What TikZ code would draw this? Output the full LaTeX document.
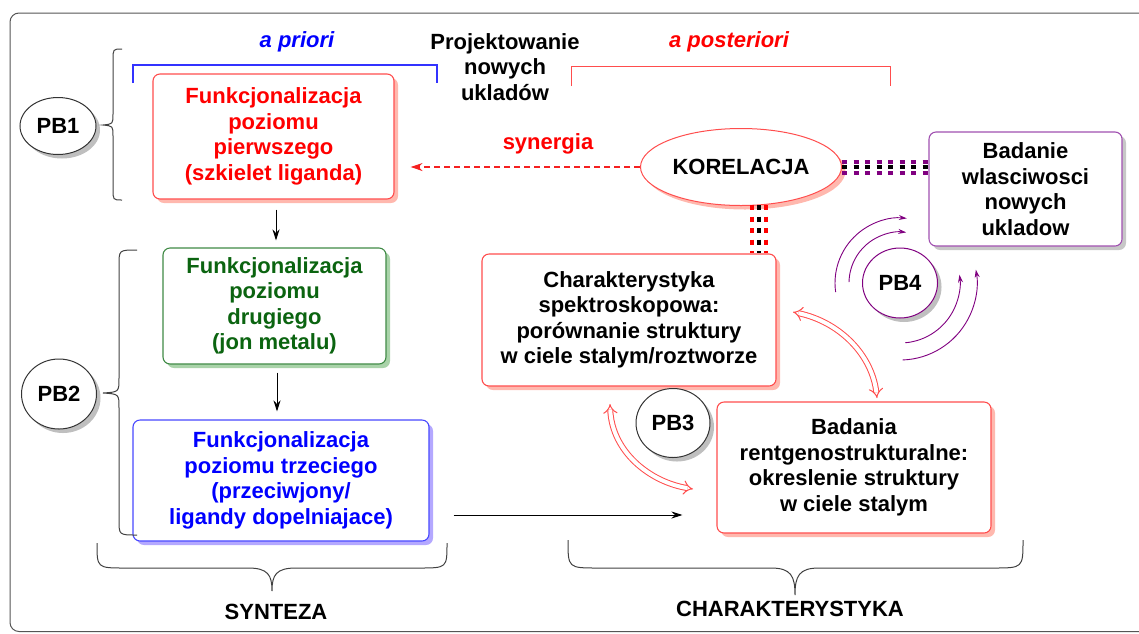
\documentclass[tikz,border=0pt]{standalone}
\usepackage{fontspec}
\setmainfont{Liberation Sans}
\usetikzlibrary{arrows.meta,shadows,shapes.geometric}
\definecolor{tred}{HTML}{FF0000}
\definecolor{bred}{HTML}{FF4D4D}
\definecolor{sred}{HTML}{FFB8AE}
\definecolor{tgreen}{HTML}{0B6410}
\definecolor{bgreen}{HTML}{3F8A45}
\definecolor{sgreen}{HTML}{A9D3A9}
\definecolor{tblue}{HTML}{0000FF}
\definecolor{bblue}{HTML}{4848FF}
\definecolor{lblue}{HTML}{3333FF}
\definecolor{dred}{HTML}{F52020}
\definecolor{sblue}{HTML}{B4A8FF}
\definecolor{tpurp}{HTML}{800080}
\definecolor{bpurp}{HTML}{A050B0}
\definecolor{frame}{HTML}{555555}
\begin{document}
\begin{tikzpicture}[x=1pt,y=-1pt,
  every node/.style={font=\fontsize{22}{25.5}\selectfont\bfseries},
  box/.style={rectangle, rounded corners=7pt, line width=1.1pt, fill=white, align=center, inner sep=0pt},
  shad/.style={drop shadow={shadow xshift=4pt, shadow yshift=-4pt, fill=#1, opacity=1}},
  pb/.style={ellipse, draw=black!80, line width=1pt, fill=white, inner sep=0pt, shad=black!25},
  arr/.style={-{Stealth[length=11pt,width=7pt]}, line width=0.9pt},
  brc/.style={draw=black!75, line width=1pt},
  dotl/.style={line width=4pt, dash pattern=on 5pt off 6.5pt},
  hollow/.style={draw=bred, line width=1pt, double=white, double distance=4pt, {Implies[scale=1.4]}-{Implies[scale=1.4]}},
  parc/.style={draw=tpurp, line width=0.9pt, -{Stealth[length=8pt,width=5pt]}},
]
\useasboundingbox (0,0) rectangle (1139,633);
% outer frame
\draw[draw=frame, line width=1pt, rounded corners=9pt] (10,631.5) rectangle (1180,13);

% top labels
\node[text=tblue, font=\fontsize{22}{25.5}\selectfont\bfseries\itshape] (apr) at (297,42) {a priori};
\node[text=tred, font=\fontsize{22}{25.5}\selectfont\bfseries\itshape] (apo) at (729,42) {a posteriori};
\node[align=center] (proj) at (505,67) {Projektowanie\\nowych\\ukladów};
\draw[draw=lblue, line width=1.2pt] (133,83) -- (133,65) -- (437,65) -- (437,83);
\draw[draw=bred, line width=1pt] (571,86) -- (571,66) -- (890,66) -- (890,86);

% left column boxes
\node[box, draw=bred, text=tred, shad=sred, minimum width=241pt, minimum height=125pt] (r1) at (273.5,136.5)
  {Funkcjonalizacja\\poziomu\\pierwszego\\(szkielet liganda)};
\node[box, draw=bgreen, text=tgreen, shad=sgreen, minimum width=223pt, minimum height=116pt] (g) at (274.5,306)
  {Funkcjonalizacja\\poziomu\\drugiego\\(jon metalu)};
\node[box, draw=bblue, text=tblue, shad=sblue, minimum width=296pt, minimum height=121pt] (bl) at (281,480.5)
  {Funkcjonalizacja\\poziomu trzeciego\\(przeciwjony/\\ligandy dopelniajace)};

\draw[arr, shorten <=10pt, shorten >=7pt] (r1.south -| 276,0) -- (g.north -| 276,0);
\draw[arr, shorten <=8pt, shorten >=8pt] (g.south -| 277,0) -- (bl.north -| 277,0);

% PB ellipses
\node[pb, minimum width=76pt, minimum height=57pt] (pb1) at (58,126) {PB1};
\node[pb, minimum width=75pt, minimum height=70pt] (pb2) at (59,394) {PB2};

% left braces
\draw[brc] (122,49) .. controls (113,49) .. (113,60) -- (113,114) .. controls (113,124) .. (103,125)
  .. controls (113,126) .. (113,136) -- (113,189) .. controls (113,200) .. (122,200);
\draw[brc] (137,250) .. controls (119,250) .. (119,265) -- (119,378) .. controls (119,392) .. (103,393)
  .. controls (119,394) .. (119,408) -- (119,520) .. controls (119,535) .. (137,535);

% right side
\node[ellipse, draw=bred, line width=1pt, fill=white, inner sep=0pt, shad=sred,
  minimum width=201pt, minimum height=77pt] (kor) at (741,167) {KORELACJA};
\node[box, draw=bpurp, text=black, shad=black!22, minimum width=193pt, minimum height=114pt] (pu) at (1025.5,189)
  {Badanie\\wlasciwosci\\nowych\\ukladow};
\node[box, draw=bred, text=black, shad=sred, minimum width=294pt, minimum height=132pt] (ch) at (629,320)
  {Charakterystyka\\spektroskopowa:\\porównanie struktury\\w ciele stalym/roztworze};
\node[box, draw=bred, text=black, shad=sred, minimum width=274pt, minimum height=131pt] (bad) at (854,467.5)
  {Badania\\rentgenostrukturalne:\\okreslenie struktury\\w ciele stalym};
\node[pb, minimum width=74pt, minimum height=69pt] (pb3) at (673,423) {PB3};
\node[pb, draw=tpurp, minimum width=75pt, minimum height=70pt] (pb4) at (900,283) {PB4};

% synergia
\draw[draw=dred, line width=1.2pt, dash pattern=on 6pt off 4pt, shorten >=16pt,
  -{Stealth[length=12pt,width=8pt,fill=dred]}]
  (kor.west) -- (r1.east |- kor.west);
\node[text=tred] (syn) at (548,144) {synergia};

% dotted connectors
\coordinate (k1) at ([yshift=5.5pt]kor.east);
\coordinate (k2) at (kor.east);
\coordinate (k3) at ([yshift=-5.5pt]kor.east);
\draw[dotl, draw=tpurp] (k1) -- (k1 -| pu.west);
\draw[dotl, draw=black] (k2) -- (k2 -| pu.west);
\draw[dotl, draw=tpurp] (k3) -- (k3 -| pu.west);
\coordinate (v1) at ([xshift=11pt, yshift=1pt]kor.south);
\coordinate (v2) at ([xshift=18pt, yshift=1pt]kor.south);
\coordinate (v3) at ([xshift=25pt, yshift=1pt]kor.south);
\draw[dotl, draw=tred] (v1) -- (v1 |- ch.north);
\draw[dotl, draw=black] (v2) -- (v2 |- ch.north);
\draw[dotl, draw=tred] (v3) -- (v3 |- ch.north);

% synthesis -> characterisation arrow
\draw[arr, shorten <=24pt, shorten >=34pt] (bl.east |- 0,515) -- (bad.west |- 0,515);

% hollow double arrows
\coordinate (h1a) at (793,312);
\coordinate (h1b) at (877,398);
\draw[hollow] (h1a) .. controls (840,322) and (872,355) .. (h1b);
\coordinate (h2a) at (610,404);
\coordinate (h2b) at (693,489);
\draw[hollow] (h2a) .. controls (612,452) and (650,482) .. (h2b);

% PB4 arcs
\draw[parc] (pb4.center) ++(172:65) arc[start angle=172, end angle=276, radius=65];
\draw[parc] (pb4.center) ++(181:51) arc[start angle=181, end angle=277, radius=51];
\draw[parc] (pb4.center) ++(88:77) arc[start angle=88, end angle=-10, radius=77];
\draw[parc] (pb4.center) ++(85:60) arc[start angle=85, end angle=-8, radius=60];

% bottom braces
\draw[brc] (97,543) .. controls (97,568) .. (125,568) -- (248,568) .. controls (268,568) and (272,575) .. (272,591)
  .. controls (272,575) and (276,568) .. (296,568) -- (419,568) .. controls (447,568) .. (447,543);
\draw[brc] (568,540) .. controls (568,568) .. (598,568) -- (771,568) .. controls (791,568) and (795,576) .. (795,595)
  .. controls (795,576) and (799,568) .. (819,568) -- (993,568) .. controls (1023,568) .. (1023,540);
\node (syn2) at (276,612) {SYNTEZA};
\node (char) at (790,609) {CHARAKTERYSTYKA};
\end{tikzpicture}
\end{document}
